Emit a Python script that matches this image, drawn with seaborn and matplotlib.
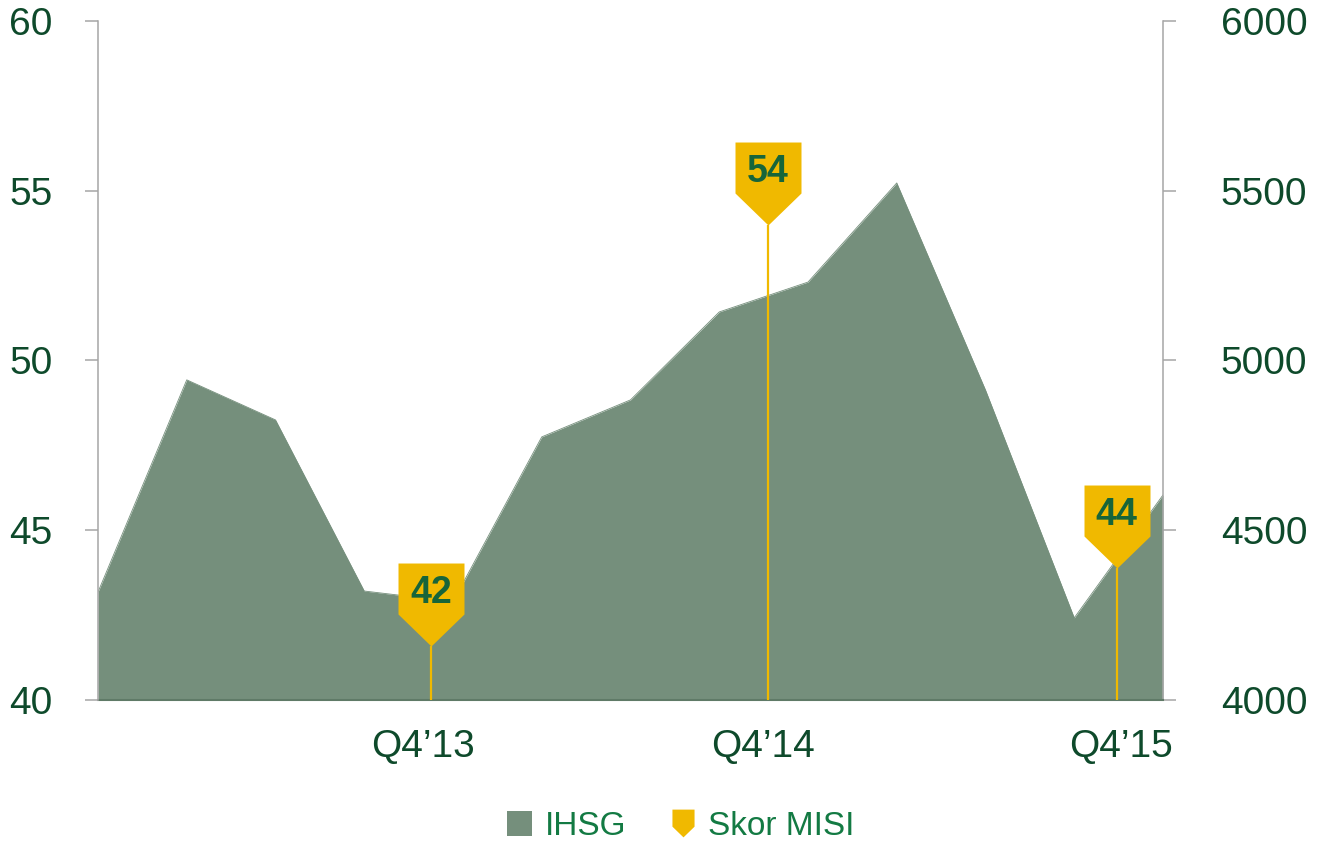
import numpy as np
import pandas as pd
import seaborn as sns
import matplotlib.pyplot as plt
from matplotlib.path import Path
from matplotlib.patches import Patch
from matplotlib.lines import Line2D

# data
quarter_idx = list(range(13))
ihsg = [4318, 4943, 4825, 4321, 4290, 4775, 4884, 5143, 5231, 5523, 4913, 4242, 4604]
misi_pos = [3.75, 7.55, 11.48]
misi_val = [41.6, 54.0, 43.9]
misi_lbl = ['42', '54', '44']
tick_pos = [3.66, 7.49, 11.53]
tick_lbl = ['Q4\u201913', 'Q4\u201914', 'Q4\u201915']

df = pd.DataFrame({'q': quarter_idx, 'ihsg': ihsg})

area_col = '#758F7C'
gold = '#F0B900'
dark_green = '#0E4A2B'
num_green = '#17653A'
leg_green = '#137A43'
axis_grey = '#A6A6A6'

sns.set_theme(style='white')
plt.rcParams['font.family'] = ['Liberation Sans', 'DejaVu Sans']


def pin_path(shift=0.0):
    # pentagon "pin": tip at origin (shift moves it vertically)
    v = np.array([[0, 0], [33, 32], [33, 83], [-33, 83], [-33, 32], [0, 0]], float)
    v[:, 1] -= shift
    codes = [Path.MOVETO] + [Path.LINETO] * 4 + [Path.CLOSEPOLY]
    return Path(v, codes)


fig = plt.figure(figsize=(13.17, 8.46), dpi=100)
ax = fig.add_axes([98 / 1317, 146 / 846, 1065 / 1317, 679 / 846])
ax2 = ax.twinx()

# IHSG area (right scale)
ax.fill_between(df['q'], 4000, df['ihsg'], color=area_col, lw=0)
sns.lineplot(data=df, x='q', y='ihsg', ax=ax, color=area_col, lw=0.6)
ax.set_xlim(0, 12)
ax.set_ylim(4000, 6000)
ax.set_yticks([4000, 4500, 5000, 5500, 6000])
ax.yaxis.tick_right()
ax.set_xlabel('')
ax.set_ylabel('')

# MISI pins (left scale)
ax2.set_ylim(40, 60)
ax2.set_yticks([40, 45, 50, 55, 60])
ax2.yaxis.tick_left()
ax2.vlines(misi_pos, 40, misi_val, color=gold, lw=1.6)
ax2.plot(misi_pos, misi_val, ls='none', marker=pin_path(), ms=119.5,
         mfc=gold, mec='none')
for x, v, t in zip(misi_pos, misi_val, misi_lbl):
    ax2.annotate(t, (x, v), xytext=(0, 38), textcoords='offset points',
                 ha='center', va='center', fontsize=27, fontweight='bold',
                 color=num_green)

ax.set_xticks(tick_pos)
ax.set_xticklabels(tick_lbl)

for a in (ax, ax2):
    for s in a.spines.values():
        s.set_visible(False)
ax.spines['right'].set_visible(True)
ax.spines['right'].set_color(axis_grey)
ax.spines['right'].set_linewidth(1.1)
ax.spines['bottom'].set_visible(True)
ax.spines['bottom'].set_color('#5F7A67')
ax.spines['bottom'].set_linewidth(1.5)
ax2.spines['left'].set_visible(True)
ax2.spines['left'].set_color(axis_grey)
ax2.spines['left'].set_linewidth(1.1)

ax.tick_params(axis='y', direction='out', length=9.5, width=1.1, color=axis_grey,
               labelsize=28, labelcolor=dark_green, pad=32, right=True, left=False)
ax.tick_params(axis='x', length=0, labelsize=28, labelcolor=dark_green, pad=21)
ax2.tick_params(axis='y', direction='out', length=9.5, width=1.1, color=axis_grey,
                labelsize=28, labelcolor=dark_green, pad=23, left=True, right=False)

handles = [
    Patch(facecolor=area_col, edgecolor='none', label='IHSG'),
    Line2D([], [], ls='none', marker=pin_path(41.5), ms=20, mfc=gold, mec='none',
           label='Skor MISI'),
]
leg = fig.legend(handles=handles, loc='lower center', bbox_to_anchor=(0.517, -0.031),
                 ncol=2, frameon=False, fontsize=24, handlelength=0.75,
                 handleheight=0.75, handletextpad=0.4, columnspacing=1.3)
for t in leg.get_texts():
    t.set_color(leg_green)

fig.savefig('out.png', dpi=100)
